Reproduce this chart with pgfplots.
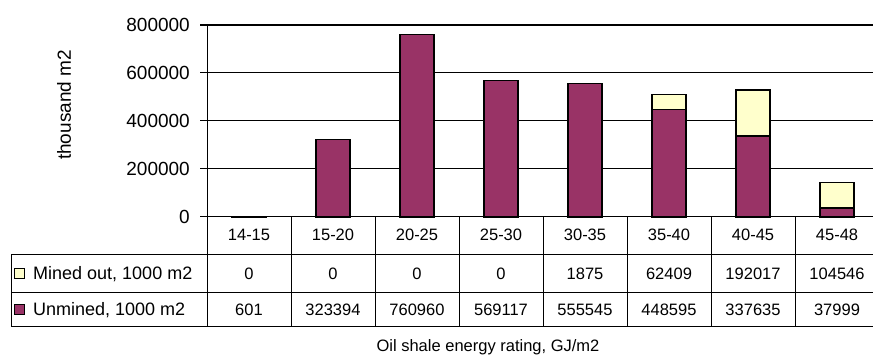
\documentclass[border=0pt]{standalone}
\usepackage{pgfplots}
\pgfplotsset{compat=1.18}
\usepackage{pgfplotstable}
\usepackage{fontspec}
\setmainfont{Liberation Sans}

\definecolor{unminedcol}{HTML}{993366}
\definecolor{minedcol}{HTML}{FFFFCC}

% Oil shale area by energy rating, thousand m2
\pgfplotstableread{
cat mined unmined
14-15 0 601
15-20 0 323394
20-25 0 760960
25-30 0 569117
30-35 1875 555545
35-40 62409 448595
40-45 192017 337635
45-48 104546 37999
}\ratingtable

\newcommand\ticksize{\fontsize{19}{22}\selectfont}
\newcommand\cellsize{\fontsize{16.5}{19}\selectfont}
\newcommand\keysize{\fontsize{18}{21}\selectfont}

\begin{document}
\begin{tikzpicture}[x=1pt,y=1pt]
\useasboundingbox (0,0) rectangle (873,363);
\begin{axis}[
  at={(207pt,146pt)}, anchor=south west,
  scale only axis, width=672pt, height=192pt,
  xmin=-0.5, xmax=7.5, ymin=0, ymax=800000,
  axis x line=none, axis y line*=left,
  ytick={0,200000,400000,600000,800000},
  scaled y ticks=false,
  /pgf/number format/fixed,
  /pgf/number format/1000 sep={},
  /pgf/number format/assume math mode=true,
  yticklabel style={font=\ticksize, inner sep=0pt, xshift=-10pt},
  ymajorgrids, grid style={black, line width=1pt},
  y axis line style={black, line width=1pt},
  tick align=outside, major tick length=7pt,
  tick style={black, line width=1pt},
  ybar stacked, bar width=34pt,
  clip=false,
]
\addplot[fill=unminedcol, draw=black, line width=1.4pt]
  table[x expr=\coordindex, y=unmined]{\ratingtable};
\addplot[fill=minedcol, draw=black, line width=1.4pt]
  table[x expr=\coordindex, y=mined]{\ratingtable};
\end{axis}

% data table under the plot
\begin{scope}[line width=1pt]
  \draw (11,108) -- (879,108);
  \draw (11,70) -- (879,70);
  \draw (11,36) -- (879,36);
  \draw (11,36) -- (11,108);
  \foreach \i in {0,...,8}{
    \draw ({207+84*\i},36) -- ({207+84*\i},146);
  }
\end{scope}

\foreach \i in {0,...,7}{
  \pgfplotstablegetelem{\i}{cat}\of\ratingtable
  \node[font=\cellsize, inner sep=0pt] at ({249+84*\i},128) {\pgfplotsretval};
  \pgfplotstablegetelem{\i}{mined}\of\ratingtable
  \node[font=\cellsize, inner sep=0pt] at ({249+84*\i},89) {\pgfplotsretval};
  \pgfplotstablegetelem{\i}{unmined}\of\ratingtable
  \node[font=\cellsize, inner sep=0pt] at ({249+84*\i},53) {\pgfplotsretval};
}

% row keys
\draw[fill=minedcol, line width=1pt] (14,84) rectangle (24,94);
\node[font=\keysize, anchor=west, inner sep=0pt] at (33,89) {Mined out, 1000 m2};
\draw[fill=unminedcol, line width=1pt] (14,48) rectangle (24,58);
\node[font=\keysize, anchor=west, inner sep=0pt] at (33,53) {Unmined, 1000 m2};

% axis titles
\node[font=\ticksize, rotate=90] at (64,258) {thousand m2};
\node[font=\cellsize] at (488,16) {Oil shale energy rating, GJ/m2};
\end{tikzpicture}
\end{document}
